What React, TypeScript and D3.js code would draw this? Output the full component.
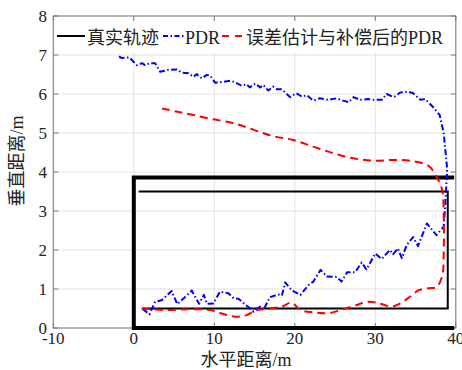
import React from 'react';
import * as d3 from 'd3';

// x ticks / y ticks
const xTicks = [-10, 0, 10, 20, 30, 40];
const yTicks = [0, 1, 2, 3, 4, 5, 6, 7, 8];

// true trajectory (two loops)
const truthOuterX = [39.8, 0, 0, 39.8];
const truthOuterY = [3.86, 3.86, 0, 0];
const truthInnerX = [0.6, 39.0, 39.0, 1.0];
const truthInnerY = [3.5, 3.5, 0.5, 0.5];

// PDR
const pdrX = [1.1, 1.95, 2.65, 3.5, 4.7, 5.4, 6.2, 7.2, 8.1, 8.7, 9.1, 9.9, 10.7, 11.75, 12.4, 13.0, 14.9, 15.7, 16.1, 16.9, 17.95, 18.4, 18.8, 19.6, 20.7, 21.7, 22.3, 23.2, 24.0, 25.2, 25.8, 26.5, 27.5, 28.3, 28.9, 30.0, 30.8, 31.8, 32.2, 32.8, 33.3, 33.9, 34.7, 35.3, 36.4, 37.6, 38.5, 38.7, 38.9, 38.9, 38.5, 38.0, 37.2, 36.2, 35.6, 34.7, 34.1, 33.1, 32.3, 31.4, 30.8, 29.8, 29.1, 28.1, 27.3, 26.7, 26.0, 25.2, 24.2, 23.1, 22.3, 21.5, 20.9, 20.2, 19.4, 18.4, 17.8, 17.3, 16.7, 16.1, 15.7, 15.1, 14.4, 14.0, 13.4, 12.6, 12.0, 10.7, 10.1, 9.5, 9.07, 8.45, 7.8, 7.4, 6.8, 5.96, 5.34, 4.3, 3.27, 2.65, 2.0, 1.4, 1.0, 0.37, -0.55, -1.5, -2.1];
const pdrY = [0.49, 0.35, 0.67, 0.72, 0.95, 0.61, 0.76, 0.96, 0.62, 0.85, 0.62, 0.63, 0.93, 0.89, 0.76, 0.75, 0.42, 0.55, 0.46, 0.79, 0.86, 0.83, 1.17, 0.97, 0.85, 1.1, 1.19, 1.49, 1.32, 1.31, 1.19, 1.43, 1.43, 1.68, 1.5, 1.91, 1.77, 2.0, 1.89, 2.04, 1.79, 2.13, 2.33, 2.1, 2.68, 2.38, 2.6, 3.2, 3.97, 4.14, 4.99, 5.46, 5.66, 5.87, 5.85, 6.02, 6.06, 6.04, 5.92, 6.0, 5.85, 5.85, 5.87, 5.85, 5.92, 5.79, 5.83, 5.89, 5.85, 5.89, 5.83, 5.97, 5.93, 6.02, 5.92, 6.12, 6.12, 6.19, 6.09, 6.23, 6.17, 6.27, 6.17, 6.25, 6.21, 6.30, 6.34, 6.30, 6.29, 6.47, 6.49, 6.40, 6.51, 6.44, 6.53, 6.55, 6.63, 6.62, 6.57, 6.79, 6.79, 6.74, 6.79, 6.74, 6.94, 6.92, 7.0];

// PDR after error estimation and compensation
const compX = [1.0, 4.1, 7.0, 9.5, 11.1, 12.6, 14.0, 15.3, 16.9, 18.4, 19.6, 20.7, 22.3, 24.2, 26.0, 27.7, 28.9, 30.2, 32.0, 33.1, 34.3, 35.4, 36.6, 37.6, 38.3, 38.5, 38.5, 38.3, 37.6, 36.6, 34.3, 32.3, 29.8, 27.3, 24.8, 22.3, 19.8, 17.3, 14.9, 12.4, 9.9, 7.4, 5.3, 3.5];
const compY = [0.5, 0.46, 0.48, 0.46, 0.36, 0.29, 0.33, 0.46, 0.5, 0.55, 0.65, 0.46, 0.40, 0.38, 0.48, 0.59, 0.67, 0.65, 0.55, 0.63, 0.8, 0.97, 1.02, 1.05, 1.32, 2.0, 2.85, 3.54, 3.88, 4.16, 4.29, 4.31, 4.29, 4.35, 4.48, 4.65, 4.82, 4.92, 5.08, 5.25, 5.35, 5.46, 5.55, 5.63];

const legendLabels = ['真实轨迹', 'PDR', '误差估计与补偿后的PDR'];

const W = 462;
const H = 370;
const left = 53.3, right = 455.8, top = 16, bottom = 328;
const font = '"Liberation Serif", "Noto Sans CJK SC", serif';

const zip = (xs: number[], ys: number[]) => xs.map((x, i) => [x, ys[i]] as [number, number]);

export default function App() {
  const x = d3.scaleLinear().domain([-10, 40]).range([left, right]);
  const y = d3.scaleLinear().domain([0, 8]).range([bottom, top]);

  const line = d3.line<[number, number]>().x(d => x(d[0])).y(d => y(d[1]));
  const smooth = d3.line<[number, number]>().x(d => x(d[0])).y(d => y(d[1])).curve(d3.curveCatmullRom);

  const axisColor = '#7a7a7a';
  const gridColor = '#e3e3e3';

  return (
    <svg width={W} height={H} style={{ position: 'absolute', left: 0, top: 0, background: '#fff' }}>
      <rect x={0} y={0} width={W} height={H} fill="#fff" />
      {/* grid */}
      {xTicks.map(t => (
        <line key={'gx' + t} x1={x(t)} x2={x(t)} y1={top} y2={bottom} stroke={gridColor} strokeWidth={1} />
      ))}
      {yTicks.map(t => (
        <line key={'gy' + t} x1={left} x2={right} y1={y(t)} y2={y(t)} stroke={gridColor} strokeWidth={1} />
      ))}
      {/* axes box */}
      <rect x={left} y={top} width={right - left} height={bottom - top} fill="none" stroke={axisColor} strokeWidth={1} />
      {xTicks.map(t => (
        <g key={'tx' + t}>
          <line x1={x(t)} x2={x(t)} y1={bottom} y2={bottom - 5} stroke={axisColor} />
          <line x1={x(t)} x2={x(t)} y1={top} y2={top + 5} stroke={axisColor} />
        </g>
      ))}
      {yTicks.map(t => (
        <g key={'ty' + t}>
          <line x1={left} x2={left + 5} y1={y(t)} y2={y(t)} stroke={axisColor} />
          <line x1={right} x2={right - 5} y1={y(t)} y2={y(t)} stroke={axisColor} />
        </g>
      ))}

      {/* data */}
      <path d={line(zip(truthOuterX, truthOuterY)) || ''} fill="none" stroke="#000" strokeWidth={4} />
      <path d={line(zip(truthInnerX, truthInnerY)) || ''} fill="none" stroke="#000" strokeWidth={2} />
      <path d={line(zip(pdrX, pdrY)) || ''} fill="none" stroke="#0000ff" strokeWidth={2}
        strokeDasharray="6,2.5,1.5,2.5" strokeLinejoin="round" />
      <path d={smooth(zip(compX, compY)) || ''} fill="none" stroke="#ff0000" strokeWidth={2}
        strokeDasharray="8,5" />

      {/* legend */}
      <rect x={55} y={21} width={399} height={31} fill="#fff" stroke="none" />
      <line x1={57} x2={85} y1={36} y2={36} stroke="#000" strokeWidth={2} />
      <text x={87} y={43.5} fontFamily={font} fontSize={18} fill="#222">{legendLabels[0]}</text>
      <line x1={163} x2={184} y1={36} y2={36} stroke="#0000ff" strokeWidth={2} strokeDasharray="5,2.5,1.5,2.5" />
      <text x={185} y={43.5} fontFamily={font} fontSize={18} fill="#222">{legendLabels[1]}</text>
      <line x1={222} x2={244} y1={36} y2={36} stroke="#ff0000" strokeWidth={2} strokeDasharray="7,6" />
      <text x={246} y={43.5} fontFamily={font} fontSize={18} fill="#222">{legendLabels[2]}</text>

      {/* tick labels */}
      {xTicks.map(t => (
        <text key={'lx' + t} x={x(t)} y={344} textAnchor="middle" fontFamily={font} fontSize={17} fill="#222">{t}</text>
      ))}
      {yTicks.map(t => (
        <text key={'ly' + t} x={47} y={y(t) + 5.8} textAnchor="end" fontFamily={font} fontSize={17} fill="#222">{t}</text>
      ))}

      {/* axis titles */}
      <text x={246} y={366} textAnchor="middle" fontFamily={font} fontSize={18} fill="#222">水平距离/m</text>
      <text transform="translate(23,161) rotate(-90)" textAnchor="middle" fontFamily={font} fontSize={18} fill="#222">垂直距离/m</text>
    </svg>
  );
}
